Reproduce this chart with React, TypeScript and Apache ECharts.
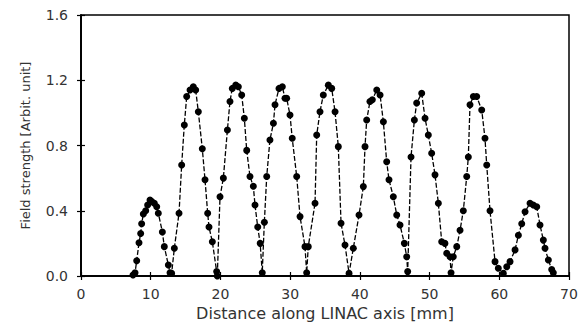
import React, { useEffect, useRef } from "react";
import * as echarts from "echarts";

const xTicks = [0, 10, 20, 30, 40, 50, 60, 70];
const yTicks = [0.0, 0.4, 0.8, 1.2, 1.6];

const positionMm = [
  7.46, 7.75, 7.99, 8.32, 8.56, 8.7, 8.94, 9.28, 9.56, 9.9, 10.14, 10.52, 10.86, 11.09, 11.67, 11.95, 12.53, 12.77, 13.0,
  13.39, 14.06, 14.44, 14.82, 15.16, 15.64, 16.11, 16.45, 16.83, 17.4, 17.79, 18.17, 18.36, 18.84, 19.46, 19.55,
  19.94, 20.42, 21.0, 21.37, 21.7, 22.2, 22.57, 23.05, 23.43, 23.77, 24.24, 24.72, 24.96, 25.35, 25.7, 26.0,
  26.3, 26.64, 27.1, 27.6, 27.83, 28.4, 28.88, 29.26, 29.5, 29.98, 30.3, 30.94, 31.42, 32.13, 32.37, 32.6,
  33.57, 33.81, 34.28, 34.76, 35.48, 35.96, 36.44, 36.91, 37.3, 37.87, 38.45, 39.06, 39.88, 40.5, 40.74,
  40.98, 41.45, 41.79, 42.42, 42.9, 43.37, 43.85, 44.18, 44.8, 45.29, 45.76, 46.38, 46.72, 46.86,
  47.34, 47.82, 48.15, 48.87, 49.35, 49.82, 50.3, 50.78, 51.26, 51.74, 52.2, 52.46, 52.93, 53.08,
  53.4, 53.9, 54.37, 54.84, 55.33, 55.56, 55.8, 56.28, 56.76, 57.48, 57.95, 58.2, 58.67, 59.39, 59.86, 60.58,
  61.07, 61.54, 62.26, 62.74, 63.22, 63.7, 64.41, 64.88, 65.37, 65.84, 66.32, 66.56, 67.04, 67.52, 67.75,
];

const fieldStrength = [
  0.006, 0.02, 0.094, 0.204, 0.26, 0.32, 0.38, 0.4, 0.435, 0.466, 0.456, 0.446, 0.425, 0.385, 0.27, 0.18, 0.067, 0.02, 0.016,
  0.17, 0.385, 0.68, 0.926, 1.1, 1.14, 1.16, 1.14, 1.007, 0.78, 0.59, 0.385, 0.3, 0.21, 0.027, 0.0,
  0.486, 0.6, 0.895, 1.07, 1.15, 1.17, 1.16, 1.11, 0.967, 0.77, 0.61, 0.55, 0.435, 0.3, 0.2, 0.02,
  0.33, 0.61, 0.834, 0.936, 1.05, 1.15, 1.16, 1.09, 1.09, 0.987, 0.844, 0.61, 0.364, 0.18, 0.02, 0.18,
  0.446, 0.864, 1.007, 1.11, 1.17, 1.15, 1.007, 0.793, 0.323, 0.19, 0.016, 0.17, 0.374, 0.548, 0.793,
  0.956, 1.07, 1.08, 1.14, 1.11, 0.946, 0.7, 0.59, 0.486, 0.374, 0.313, 0.2, 0.118, 0.027,
  0.73, 0.956, 1.06, 1.12, 0.967, 0.864, 0.752, 0.62, 0.446, 0.21, 0.2, 0.14, 0.118, 0.02,
  0.118, 0.18, 0.28, 0.4, 0.61, 0.73, 1.05, 1.1, 1.1, 1.018, 0.844, 0.68, 0.4, 0.088, 0.047, 0.016,
  0.057, 0.088, 0.16, 0.25, 0.32, 0.394, 0.446, 0.435, 0.425, 0.313, 0.22, 0.17, 0.098, 0.04, 0.02,
];

const FONT = "DejaVu Sans, Verdana, sans-serif";

export default function App() {
  const ref = useRef<HTMLDivElement>(null);
  useEffect(() => {
    document.body.style.margin = "0";
    if (!ref.current) return;
    const chart = echarts.init(ref.current, null, { renderer: "svg" });
    const data = positionMm.map((x, i) => [x, fieldStrength[i]]);
    const tickText = { color: "#333", fontFamily: FONT, fontSize: 14 };
    chart.setOption({
      animation: false,
      backgroundColor: "#ffffff",
      grid: {
        left: 81, right: 17, top: 15, bottom: 60,
        show: true, borderColor: "#000", borderWidth: 1.5, backgroundColor: "transparent",
      },
      xAxis: [
        {
          type: "value", min: 0, max: 70, interval: 10, position: "bottom",
          name: "Distance along LINAC axis [mm]", nameLocation: "middle", nameGap: 29,
          nameTextStyle: { color: "#333", fontFamily: FONT, fontSize: 16 },
          axisLine: { show: true, lineStyle: { color: "#000", width: 1.5 } },
          axisTick: { show: true, inside: true, length: 4, lineStyle: { color: "#000", width: 1.2 } },
          axisLabel: { ...tickText, margin: 11, formatter: (v: number) => (xTicks.includes(v) ? String(v) : "") },
          splitLine: { show: false },
        },
        {
          type: "value", min: 0, max: 70, interval: 10, position: "top",
          axisLine: { show: true, lineStyle: { color: "#000", width: 1.5 } },
          axisTick: { show: true, inside: true, length: 4, lineStyle: { color: "#000", width: 1.2 } },
          axisLabel: { show: false },
          splitLine: { show: false },
        },
      ],
      yAxis: [
        {
          type: "value", min: 0, max: 1.6, interval: 0.4, position: "left",
          name: "Field strength [Arbit. unit]", nameLocation: "middle", nameGap: 49,
          nameTextStyle: { color: "#333", fontFamily: FONT, fontSize: 13 },
          axisLine: { show: true, lineStyle: { color: "#000", width: 1.5 } },
          axisTick: { show: true, inside: true, length: 4, lineStyle: { color: "#000", width: 1.2 } },
          axisLabel: {
            ...tickText, margin: 13,
            formatter: (v: number) => {
              const t = yTicks.find((y) => Math.abs(y - v) < 1e-6);
              return t === undefined ? "" : t.toFixed(1);
            },
          },
          splitLine: { show: false },
        },
        {
          type: "value", min: 0, max: 1.6, interval: 0.4, position: "right",
          axisLine: { show: true, lineStyle: { color: "#000", width: 1.5 } },
          axisTick: { show: true, inside: true, length: 4, lineStyle: { color: "#000", width: 1.2 } },
          axisLabel: { show: false },
          splitLine: { show: false },
        },
      ],
      series: [
        {
          type: "line",
          data,
          symbol: "circle",
          symbolSize: 7,
          itemStyle: { color: "#000" },
          lineStyle: { color: "#000", width: 1.3, type: [5, 2] },
        },
      ],
    });
    return () => chart.dispose();
  }, []);
  return <div ref={ref} style={{ width: 586, height: 336 }} />;
}
